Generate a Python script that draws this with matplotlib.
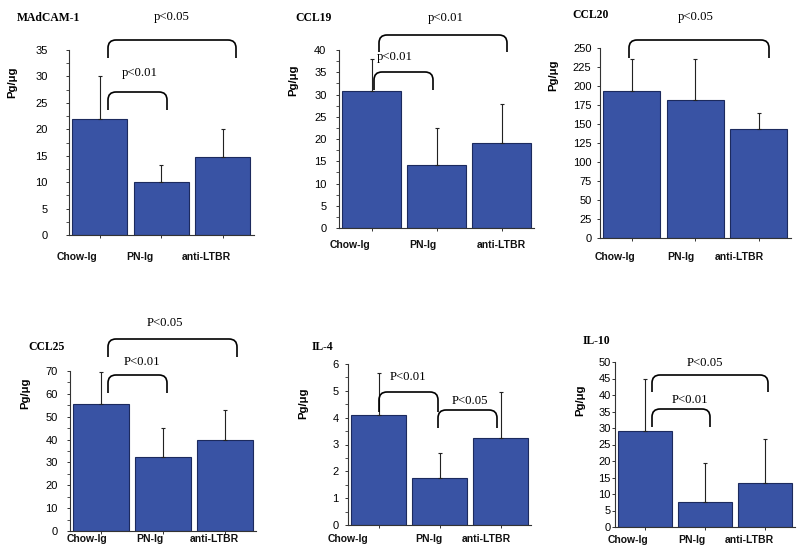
import matplotlib
matplotlib.use("Agg")
import matplotlib.pyplot as plt
from matplotlib.transforms import Affine2D, ScaledTranslation
from matplotlib.path import Path
from matplotlib.patches import PathPatch
from matplotlib.ticker import MultipleLocator

# ---------------- data ----------------
categories = ["Chow-Ig", "PN-Ig", "anti-LTBR"]

madcam_mean = [21.9, 10.0, 14.8]
madcam_sd = [8.2, 3.3, 5.3]

ccl19_mean = [30.7, 14.2, 19.0]
ccl19_sd = [7.3, 8.3, 8.8]

ccl20_mean = [194, 181, 143]
ccl20_sd = [42, 54, 22]

ccl25_mean = [55.5, 32.5, 40.0]
ccl25_sd = [14.0, 12.5, 13.0]

il4_mean = [4.1, 1.75, 3.25]
il4_sd = [1.55, 0.95, 1.7]

il10_mean = [29.1, 7.7, 13.4]
il10_sd = [15.6, 11.8, 13.4]

titles = ["MAdCAM-1", "CCL19", "CCL20", "CCL25", "IL-4", "IL-10"]
y_max = [35, 40, 250, 70, 6, 50]
y_step = [5, 5, 25, 10, 1, 5]

# ---------------- layout ----------------
W, H = 800, 552
fig = plt.figure(figsize=(W / 100, H / 100), dpi=100)
pix = Affine2D().scale(1 / W, -1 / H).translate(0, 1) + fig.transFigure

BAR = "#3953a4"
EDGE = "#1c2a5e"
INK = "#222222"

panels = [
    dict(mean=madcam_mean, sd=madcam_sd, box=(69, 50, 253.5, 235), minor=True, ypad=13,
         lab_dy=22, lab_dx=[-23, -21, -16], ylab=(12, 82), title=(17, 18),
         brackets=[(108, 236, 40, 58), (108, 167, 92, 110)],
         ptext=[("p<0.05", 172, 17), ("p<0.01", 140, 73)]),
    dict(mean=ccl19_mean, sd=ccl19_sd, box=(339, 50, 534, 228), minor=True, ypad=6.5,
         lab_dy=17, lab_dx=[-21, -14, 0], ylab=(293, 80), title=(295, 18),
         brackets=[(379, 507, 35, 52), (374, 433, 72, 90)],
         ptext=[("p<0.01", 446, 18), ("p<0.01", 395, 57)]),
    dict(mean=ccl20_mean, sd=ccl20_sd, box=(600, 48, 790.5, 238), minor=False, ypad=3.6,
         lab_dy=19, lab_dx=[-17, -14, -19], ylab=(553, 75), title=(572, 15),
         brackets=[(629, 769, 40, 58)],
         ptext=[("p<0.05", 696, 17)]),
    dict(mean=ccl25_mean, sd=ccl25_sd, box=(70, 371, 256, 531), minor=True, ypad=6.5,
         lab_dy=8, lab_dx=[-14, -13, -11], ylab=(25, 393), title=(28, 347),
         brackets=[(108, 237, 339, 357), (108, 167, 375, 393)],
         ptext=[("P<0.05", 165, 323), ("P<0.01", 142, 362)]),
    dict(mean=il4_mean, sd=il4_sd, box=(348, 364, 531, 525), minor=True, ypad=4.3,
         lab_dy=14, lab_dx=[-30, -11, -14], ylab=(303, 403), title=(312, 347),
         brackets=[(379, 438, 392, 412), (438, 497, 410, 428)],
         ptext=[("P<0.01", 408, 377), ("P<0.05", 470, 401)]),
    dict(mean=il10_mean, sd=il10_sd, box=(615, 362, 795, 527), minor=False, ypad=0.5,
         lab_dy=13, lab_dx=[-17, -13, -16], ylab=(580, 400), title=(583, 341),
         brackets=[(652, 768, 375, 392), (652, 710, 409, 427)],
         ptext=[("P<0.05", 705, 363), ("P<0.01", 690, 400)]),
]

SANS = ["Liberation Sans", "DejaVu Sans"]
SERIF = ["Liberation Serif", "DejaVu Serif"]


def bracket(x1, x2, ytop, yend, r=8):
    verts = [(x1, yend), (x1, ytop + r), (x1, ytop), (x1 + r, ytop),
             (x2 - r, ytop), (x2, ytop), (x2, ytop + r), (x2, yend)]
    codes = [Path.MOVETO, Path.LINETO, Path.CURVE3, Path.CURVE3,
             Path.LINETO, Path.CURVE3, Path.CURVE3, Path.LINETO]
    fig.add_artist(PathPatch(Path(verts, codes), transform=pix, fill=False,
                             edgecolor="black", linewidth=1.2))


for k, p in enumerate(panels):
    l, t, r, b = p["box"]
    ax = fig.add_axes([l / W, 1 - b / H, (r - l) / W, (b - t) / H])
    x = list(range(len(categories)))
    ax.bar(x, p["mean"], width=0.9, color=BAR, edgecolor=EDGE, linewidth=0.8, zorder=2)
    ax.errorbar(x, p["mean"], yerr=[[0] * 3, p["sd"]], fmt="none", ecolor=INK,
                elinewidth=0.8, capsize=1.5, capthick=0.8, zorder=3)
    ax.set_xlim(-0.5, 2.5)
    ax.set_ylim(0, y_max[k])
    ax.yaxis.set_major_locator(MultipleLocator(y_step[k]))
    if p["minor"]:
        ax.yaxis.set_minor_locator(MultipleLocator(y_step[k] / 2))
    for s in ("top", "right"):
        ax.spines[s].set_visible(False)
    for s in ("left", "bottom"):
        ax.spines[s].set_color("#333333")
        ax.spines[s].set_linewidth(0.8)
    ax.tick_params(axis="y", which="major", direction="out", length=2.5, width=0.7,
                   color="#333333", pad=p["ypad"], labelsize=8)
    ax.tick_params(axis="y", which="minor", direction="out", length=2, width=0.6,
                   color="#333333")
    for lab in ax.get_yticklabels():
        lab.set_family(SANS)
    ax.set_xticks(x)
    ax.set_xticklabels([])
    ax.tick_params(axis="x", direction="out", length=2.5, width=0.7, color="#333333")
    for i, c in enumerate(categories):
        off = ScaledTranslation(p["lab_dx"][i] / 100, -p["lab_dy"] / 100, fig.dpi_scale_trans)
        ax.text(i, 0, c, transform=ax.transData + off, ha="center", va="center",
                fontsize=7.5, fontweight="bold", family=SANS, color="#111111")
    # y label
    fig.text(p["ylab"][0], p["ylab"][1], "Pg/μg", transform=pix, rotation=90,
             ha="center", va="center", fontsize=8.2, fontweight="bold", family=SANS)
    # title
    fig.text(p["title"][0], p["title"][1], titles[k], transform=pix, ha="left",
             va="center", fontsize=8.4, fontweight="bold", family=SERIF)
    for br in p["brackets"]:
        bracket(*br)
    for txt, tx, ty in p["ptext"]:
        fig.text(tx, ty, txt, transform=pix, ha="center", va="center",
                 fontsize=9.2, family=SERIF)

fig.savefig("out.png", dpi=100)
